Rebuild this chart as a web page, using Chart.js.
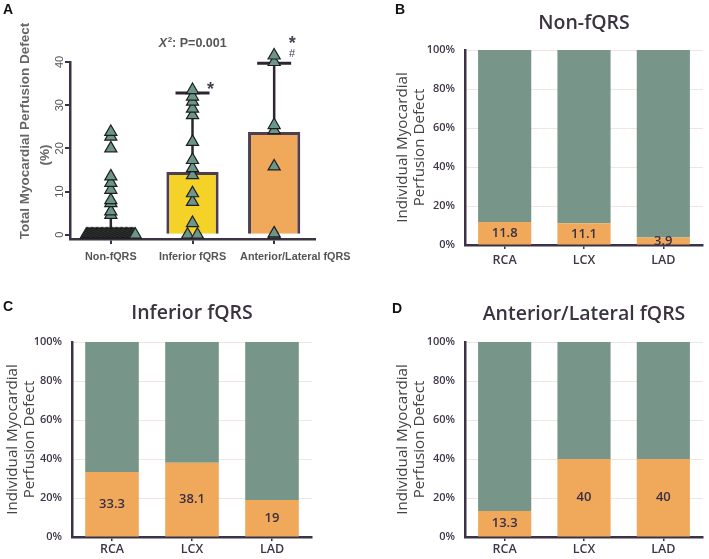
<!DOCTYPE html>
<html><head><meta charset="utf-8">
<script src="https://cdn.jsdelivr.net/npm/chart.js@4"></script>
<style>
html,body{margin:0;padding:0;background:#fff;}
#wrap{position:relative;width:709px;height:559px;overflow:hidden;background:#fff;}
.panel{position:absolute;}
.lbl{position:absolute;font:bold 14px "Liberation Sans",Arial,sans-serif;color:#111;line-height:14px;}
</style></head><body>
<div id="wrap">
  <div class="panel" style="left:0;top:0;width:360px;height:280px"><canvas id="cA"></canvas></div>
  <div class="panel" style="left:360px;top:0;width:349px;height:280px"><canvas id="cB"></canvas></div>
  <div class="panel" style="left:0;top:280px;width:360px;height:279px"><canvas id="cC"></canvas></div>
  <div class="panel" style="left:360px;top:280px;width:349px;height:279px"><canvas id="cD"></canvas></div>
  <div class="lbl" style="left:3px;top:2px">A</div>
  <div class="lbl" style="left:395px;top:2px">B</div>
  <div class="lbl" style="left:3px;top:299px">C</div>
  <div class="lbl" style="left:392px;top:301px">D</div>
</div>
<script>
// ---------- Panel A data ----------
const groupLabels = ['Non-fQRS', 'Inferior fQRS', 'Anterior/Lateral fQRS'];
const barValues = [0, 14.5, 23.8];
const errorUpper = [4, 32.8, 39.7];
const nonFqrsPoints = [23.8, 22.7, 20, 13.5, 12, 10.4, 8, 7.3, 5.4, 4.6,
  0,0,0,0,0,0,0,0,0,0,0,0,0,0,0,0,0,0,0,0,0,0,0,0,0,0,0,0,0,0,
  0,0,0,0,0,0,0,0,0,0];
const inferiorPoints = [33.5, 32, 30.8, 29.2, 27.7, 21.5, 17.3, 15.4, 13.8, 9.6, 7.6, 2.7, 0, 0];
const anteriorPoints = [41.5, 40, 25.4, 24.2, 15.8, 0.3, 0];
const aTickValues = [0, 10, 20, 30, 40];
const aTitleLines = ['Total Myocardial Perfusion Defect', '(%)'];
const chiLabel = ['X', '2', ': P=0.001'];
const sigMarks = [[], ['*'], ['*', '#']];

// ---------- Panels B-D data ----------
const arteries = ['RCA', 'LCX', 'LAD'];
const defectNonFqrs = [11.8, 11.1, 3.9];
const defectInferior = [33.3, 38.1, 19];
const defectAnterior = [13.3, 40, 40];
const pctTitle = ['Individual Myocardial', 'Perfusion Defect'];

const DARK = '#3b3345';
const GREEN = '#78958a';
const ORANGE = '#f0a95a';
const TRI = '#6c968a';

// beeswarm-style placement: zero values spread side by side, others stacked at centre
function swarm(values, g) {
  const sorted = values.filter(v => v !== 0).sort((a, b) => a - b);
  const zeros = values.filter(v => v === 0);
  const n = zeros.length;
  const half = n > 2 ? 0.3 : 0.06 * (n - 1);
  const pts = zeros.map((v, k) => ({x: g + (n > 1 ? -half + 2 * half * k / (n - 1) : 0), y: v}));
  return pts.concat(sorted.map(v => ({x: g, y: v})));
}
const scatterData = [].concat(swarm(nonFqrsPoints, 0), swarm(inferiorPoints, 1), swarm(anteriorPoints, 2));

const fontA = '"Liberation Sans", Arial, sans-serif';
const fontB = '"Open Sans", "Liberation Sans", sans-serif';

const panelAPlugin = {
  id: 'panelA',
  beforeDatasetsDraw(chart) {
    const ctx = chart.ctx, y = chart.scales.y;
    const meta = chart.getDatasetMeta(0);
    ctx.save();
    ctx.strokeStyle = '#2c2630';
    ctx.lineWidth = 2.5;
    barValues.forEach((v, i) => {
      const x = meta.data[i].x;
      const yb = y.getPixelForValue(v), yt = y.getPixelForValue(errorUpper[i]);
      ctx.beginPath(); ctx.moveTo(x, yb); ctx.lineTo(x, yt); ctx.stroke();
      if (v > 0) {
        ctx.lineWidth = 3;
        ctx.beginPath(); ctx.moveTo(x - 17, yt); ctx.lineTo(x + 17, yt); ctx.stroke();
        ctx.lineWidth = 2.5;
      }
    });
    ctx.restore();
  },
  afterDatasetsDraw(chart) {
    const ctx = chart.ctx, y = chart.scales.y, xs = chart.scales.x, area = chart.chartArea;
    const meta = chart.getDatasetMeta(0);
    ctx.save();
    // x category labels (shifted right when they would overlap the previous one)
    ctx.fillStyle = '#555';
    ctx.font = 'bold 10.8px ' + fontA;
    ctx.textAlign = 'center'; ctx.textBaseline = 'middle';
    let prevRight = -Infinity;
    chart.data.labels.forEach((lab, i) => {
      const w = ctx.measureText(lab).width;
      const cx = Math.max(xs.getPixelForValue(i), prevRight + 14 + w / 2);
      ctx.fillText(lab, cx, area.bottom + 18);
      prevRight = cx + w / 2;
    });
    // rotated y tick labels
    ctx.font = '11px ' + fontA;
    aTickValues.forEach(v => {
      ctx.save();
      ctx.translate(area.left - 10, y.getPixelForValue(v));
      ctx.rotate(-Math.PI / 2);
      ctx.fillText(String(v), 0, 0);
      ctx.restore();
    });
    // y axis title
    ctx.fillStyle = '#666';
    ctx.font = 'bold 13.5px ' + fontA;
    const h = area.bottom - area.top;
    const titlePos = [[area.left - 44.5, area.top + h * 0.39], [area.left - 25, area.top + h * 0.525]];
    aTitleLines.forEach((t, i) => {
      ctx.save();
      ctx.translate(titlePos[i][0], titlePos[i][1]);
      ctx.rotate(-Math.PI / 2);
      ctx.fillText(t, 0, 0);
      ctx.restore();
    });
    // significance marks
    ctx.fillStyle = '#4a4250';
    sigMarks.forEach((marks, i) => {
      const x = meta.data[i].x + 18;
      const yt = y.getPixelForValue(errorUpper[i]);
      marks.forEach((m) => {
        if (m === '*') {
          ctx.font = 'bold 18px ' + fontA;
          ctx.fillText(m, x, yt - (marks.length > 1 ? 19 : 3));
        } else {
          ctx.font = '11px ' + fontA;
          ctx.fillText(m, x, yt - 9);
        }
      });
    });
    // chi-square label
    ctx.fillStyle = '#555';
    ctx.textAlign = 'left'; ctx.textBaseline = 'alphabetic';
    const cx = meta.data[1].x, cy = area.top - 15;
    ctx.font = 'italic bold 12.5px ' + fontA;
    const w1 = ctx.measureText(chiLabel[0]).width;
    ctx.font = 'bold 8px ' + fontA;
    const w2 = ctx.measureText(chiLabel[1]).width;
    ctx.font = 'bold 12.5px ' + fontA;
    const w3 = ctx.measureText(chiLabel[2]).width;
    let sx = cx - (w1 + w2 + w3) / 2;
    ctx.font = 'italic bold 12.5px ' + fontA;
    ctx.fillText(chiLabel[0], sx, cy); sx += w1 + 0.5;
    ctx.font = 'bold 8px ' + fontA;
    ctx.fillText(chiLabel[1], sx, cy - 5); sx += w2;
    ctx.font = 'bold 12.5px ' + fontA;
    ctx.fillText(chiLabel[2], sx, cy);
    ctx.restore();
  }
};

new Chart(document.getElementById('cA'), {
  type: 'bar',
  data: {
    labels: groupLabels,
    datasets: [
      {
        type: 'bar', data: barValues, order: 1, grouped: false,
        backgroundColor: ['#ffffff', '#f5d228', '#f0a95a'],
        borderColor: '#4a3f55', borderWidth: 3, borderSkipped: 'bottom',
        barPercentage: 0.64, categoryPercentage: 1
      },
      {
        type: 'scatter', data: scatterData, xAxisID: 'xs', order: 0,
        pointStyle: 'triangle', pointRadius: 7, pointHoverRadius: 7,
        backgroundColor: TRI, borderColor: '#1e1e1e', borderWidth: 1.2, clip: false
      }
    ]
  },
  options: {
    responsive: true, maintainAspectRatio: false, animation: false, devicePixelRatio: 1,
    layout: {padding: {top: 62, right: 45, left: 0, bottom: 0}},
    plugins: {legend: {display: false}, tooltip: {enabled: false}, title: {display: false}},
    scales: {
      x: {
        type: 'category', offset: true,
        grid: {drawOnChartArea: false, offset: false, drawTicks: true, tickLength: 5, color: DARK, lineWidth: 2},
        border: {display: true, color: DARK, width: 2.5},
        ticks: {display: false},
        afterFit(s) { s.height = 41; }
      },
      xs: {type: 'linear', display: false, offset: false, grid: {offset: false}, min: -0.5, max: 2.5},
      y: {
        min: -1, max: 40,
        afterBuildTicks(s) { s.ticks = aTickValues.map(v => ({value: v})); },
        grid: {drawOnChartArea: false, drawTicks: true, tickLength: 5, color: DARK, lineWidth: 2},
        border: {display: true, color: DARK, width: 2.5},
        ticks: {display: false},
        afterFit(s) { s.width = 70; }
      }
    }
  },
  plugins: [panelAPlugin]
});

// ---------- stacked percentage panels ----------
const valueLabelPlugin = {
  id: 'valueLabels',
  afterDatasetsDraw(chart) {
    const ctx = chart.ctx;
    const meta = chart.getDatasetMeta(0);
    const vals = chart.data.datasets[0].data;
    ctx.save();
    ctx.fillStyle = '#3a2f45';
    ctx.font = '600 13px ' + fontB;
    ctx.textAlign = 'center'; ctx.textBaseline = 'middle';
    meta.data.forEach((el, i) => {
      ctx.fillText(String(vals[i]), el.x, (el.y + el.base) / 2);
    });
    ctx.restore();
  }
};

function pctChart(id, title, defects, cfg) {
  const rest = defects.map(v => 100 - v);
  new Chart(document.getElementById(id), {
    type: 'bar',
    data: {
      labels: arteries,
      datasets: [
        {data: defects, backgroundColor: ORANGE, barPercentage: 0.67, categoryPercentage: 1, borderWidth: 0},
        {data: rest, backgroundColor: GREEN, barPercentage: 0.67, categoryPercentage: 1, borderWidth: 0}
      ]
    },
    options: {
      responsive: true, maintainAspectRatio: false, animation: false, devicePixelRatio: 1,
      layout: {padding: {top: 0, right: cfg.right, left: 0, bottom: 0}},
      plugins: {
        legend: {display: false}, tooltip: {enabled: false},
        title: {
          display: true, text: title, fullSize: false, color: '#3b3340',
          font: {family: fontB, size: 19.5, weight: '600', lineHeight: 1.2},
          padding: {top: cfg.titleTop, bottom: cfg.titleBottom}
        }
      },
      scales: {
        x: {
          stacked: true, offset: true,
          grid: {drawOnChartArea: false, offset: false, drawTicks: true, tickLength: 4, color: DARK, lineWidth: 1.5},
          border: {display: true, color: DARK, width: 2.5},
          ticks: {color: '#3f3548', font: {family: fontB, size: 12.5, weight: '600'}, padding: cfg.xPad, maxRotation: 0, autoSkip: false},
          afterFit(s) { s.height = cfg.xHeight; }
        },
        y: {
          stacked: true, min: 0, max: 100,
          ticks: {stepSize: 20, callback: v => v + '%', color: '#3f3548', font: {family: fontB, size: 11, weight: '600'}, padding: 10},
          grid: {drawTicks: false, color: '#f3e4e4', lineWidth: 1},
          border: {display: true, color: DARK, width: 2.5},
          title: {
            display: true, text: pctTitle, color: '#444',
            font: {family: fontB, size: 15.2, lineHeight: 1.12},
            padding: {top: cfg.yTitlePad, bottom: 0}
          },
          afterFit(s) { s.width = cfg.yWidth; }
        }
      }
    },
    plugins: [valueLabelPlugin]
  });
}

pctChart('cB', 'Non-fQRS', defectNonFqrs,
  {right: 6, titleTop: 11.3, titleBottom: 15.3, xHeight: 35, xPad: 4, yWidth: 105, yTitlePad: 34.5});
pctChart('cC', 'Inferior fQRS', defectInferior,
  {right: 48, titleTop: 21.3, titleBottom: 17.3, xHeight: 22, xPad: 1, yWidth: 72, yTitlePad: 4});
pctChart('cD', 'Anterior/Lateral fQRS', defectAnterior,
  {right: 6, titleTop: 22.3, titleBottom: 16.3, xHeight: 22, xPad: 1, yWidth: 105, yTitlePad: 34.5});
</script>
</body></html>
